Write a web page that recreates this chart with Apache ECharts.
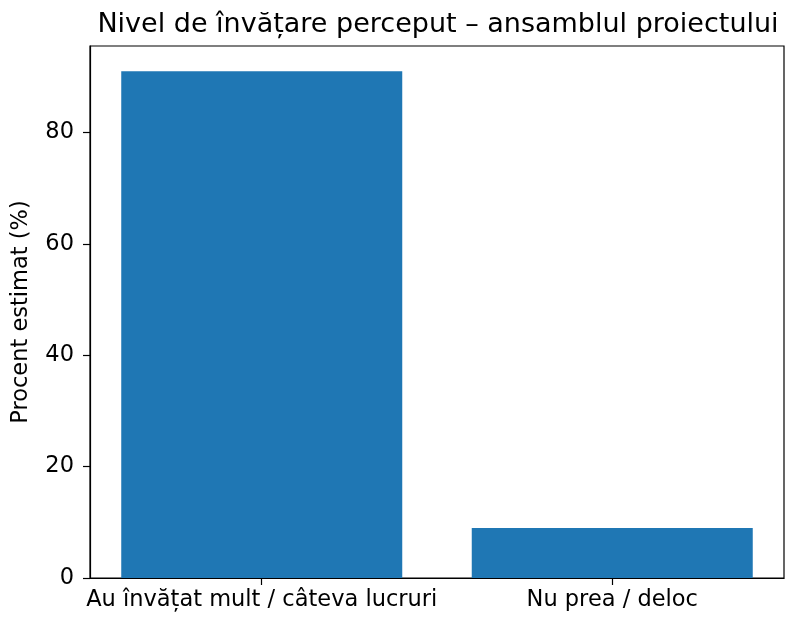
<!DOCTYPE html>
<html>
<head>
<meta charset="utf-8">
<script src="https://cdn.jsdelivr.net/npm/echarts@6/dist/echarts.min.js"></script>
<style>html,body{margin:0;padding:0;background:#fff;}#c{width:786px;height:618px;}</style>
</head>
<body>
<div id="c"></div>
<script>
const categories = ['Au învățat mult / câteva lucruri', 'Nu prea / deloc'];
const values = [91, 9];
const yTicks = [0, 20, 40, 60, 80];

const chart = echarts.init(document.getElementById('c'), null, {renderer: 'canvas'});
const font = 'DejaVu Sans';
chart.setOption({
  animation: false,
  backgroundColor: '#fff',
  title: {
    text: 'Nivel de învățare perceput – ansamblul proiectului',
    left: 433, textAlign: 'center', top: 6,
    textStyle: {fontFamily: font, fontSize: 27, fontWeight: 'normal', color: '#000'}
  },
  grid: {left: 90, right: 2, top: 46, bottom: 40, show: true, borderColor: '#000', borderWidth: 1.2, backgroundColor: 'transparent'},
  xAxis: {
    type: 'value', min: -0.49, max: 1.49,
    splitLine: {show: false},
    axisLine: {show: true, onZero: false, lineStyle: {color: '#000', width: 1.2}},
    axisTick: {show: true, length: 7, lineStyle: {color: '#000', width: 1.2}, customValues: categories.map((c, i) => i)},
    axisLabel: {customValues: categories.map((c, i) => i), formatter: v => categories[Math.round(v)] || '', fontFamily: font, fontSize: 22.5, color: '#000', margin: 11}
  },
  yAxis: {
    type: 'value', min: 0, max: 95.55,
    name: 'Procent estimat (%)', nameLocation: 'middle', nameGap: 57,
    nameTextStyle: {fontFamily: font, fontSize: 22.5, color: '#000'},
    splitLine: {show: false},
    axisLine: {show: true, onZero: false, lineStyle: {color: '#000', width: 1.2}},
    axisTick: {show: true, length: 7, lineStyle: {color: '#000', width: 1.2}, customValues: yTicks},
    axisLabel: {customValues: yTicks, fontFamily: font, fontSize: 22.5, color: '#000', margin: 16}
  },
  series: [{
    type: 'bar',
    data: values.map((v, i) => [i, v]),
    barWidth: 281,
    itemStyle: {color: '#1f77b4'}
  }]
});
</script>
</body>
</html>
